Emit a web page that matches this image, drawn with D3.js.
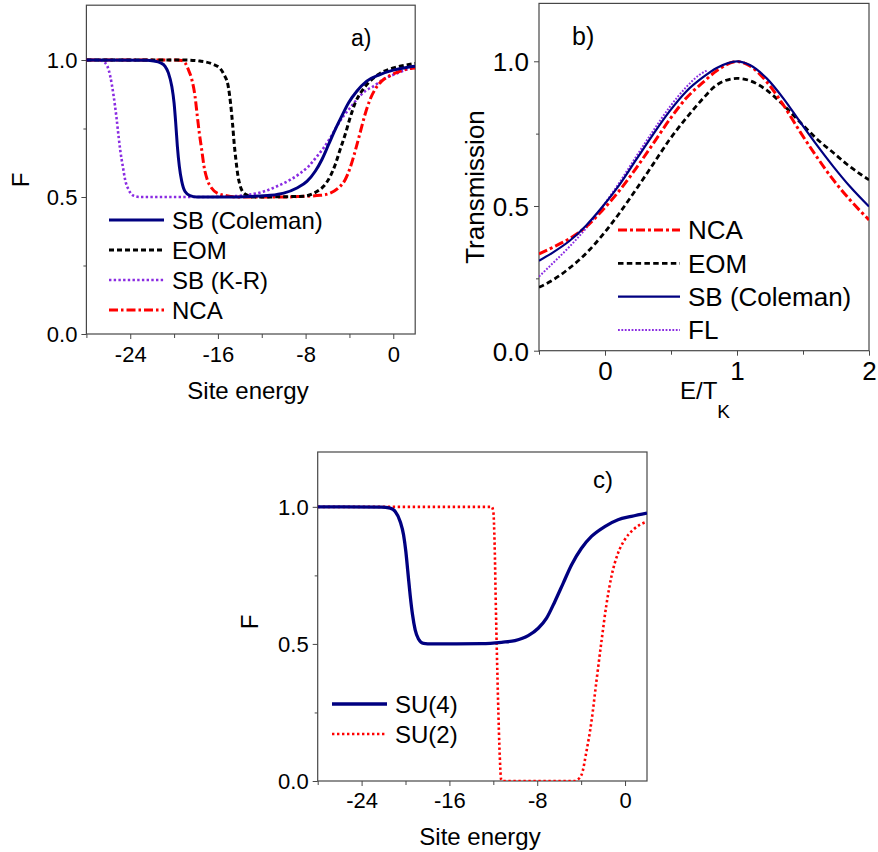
<!DOCTYPE html>
<html>
<head>
<meta charset="utf-8">
<script src="https://cdn.jsdelivr.net/npm/d3@7"></script>
<style>
  body { margin: 0; background: #fff; }
  svg { display: block; font-family: "Liberation Sans", Arial, sans-serif; }
</style>
</head>
<body>
<svg id="fig" width="878" height="852"></svg>
<script>
// ---------- panel a: F versus site energy ----------
const aSBColeman = [[-28,1],[-22.5,0.999],[-21.85,0.996],[-21.27,0.99],[-20.82,0.977],[-20.52,0.953],[-20.21,0.904],[-20.0,0.843],[-19.85,0.77],[-19.70,0.685],[-19.52,0.612],[-19.30,0.557],[-19.0,0.52],[-18.55,0.505],[-17.94,0.5],[-15,0.5],[-13.03,0.502],[-11.21,0.506],[-10.0,0.514],[-8.79,0.533],[-7.88,0.557],[-7.12,0.594],[-6.52,0.636],[-5.91,0.691],[-5.30,0.746],[-4.70,0.795],[-4.09,0.843],[-3.33,0.886],[-2.42,0.923],[-1.21,0.947],[0,0.963],[1.21,0.973],[2,0.977]];
const aEOM = [[-28,1],[-19,1],[-17.64,0.996],[-16.42,0.984],[-15.82,0.97],[-15.45,0.947],[-15.06,0.904],[-14.85,0.843],[-14.67,0.77],[-14.52,0.697],[-14.36,0.636],[-14.21,0.587],[-14.0,0.545],[-13.70,0.517],[-13.24,0.505],[-12.79,0.5],[-10,0.501],[-8.18,0.503],[-6.97,0.52],[-6.36,0.539],[-5.76,0.575],[-5.30,0.618],[-4.85,0.673],[-4.39,0.728],[-3.94,0.789],[-3.48,0.843],[-2.88,0.886],[-2.12,0.923],[-1.21,0.951],[0,0.971],[1.21,0.982],[2,0.987]];
const aSBKR = [[-28,1],[-27,1],[-26.58,0.997],[-26.12,0.98],[-25.82,0.94],[-25.52,0.87],[-25.27,0.795],[-25.06,0.72],[-24.91,0.67],[-24.67,0.61],[-24.45,0.56],[-24.15,0.527],[-23.70,0.505],[-23.09,0.5],[-17,0.5],[-15,0.502],[-13.6,0.506],[-12.8,0.511],[-11.82,0.52],[-10.61,0.539],[-9.39,0.563],[-8.48,0.587],[-7.73,0.612],[-6.97,0.648],[-6.36,0.679],[-5.76,0.715],[-5.15,0.758],[-4.55,0.795],[-3.94,0.825],[-3.33,0.856],[-2.58,0.886],[-1.82,0.904],[-0.91,0.929],[0.30,0.951],[1.52,0.968],[2,0.971]];
const aNCA = [[-28,1],[-19.8,1],[-19.3,0.998],[-19.0,0.99],[-18.70,0.965],[-18.39,0.93],[-18.09,0.868],[-17.88,0.795],[-17.70,0.734],[-17.48,0.673],[-17.27,0.612],[-16.97,0.563],[-16.58,0.533],[-15.97,0.512],[-15.21,0.505],[-14.30,0.5],[-10,0.5],[-8.48,0.502],[-6.67,0.506],[-5.76,0.514],[-5.0,0.533],[-4.39,0.563],[-3.94,0.606],[-3.48,0.667],[-3.03,0.734],[-2.58,0.801],[-2.12,0.856],[-1.67,0.892],[-1.06,0.923],[-0.30,0.943],[0.61,0.959],[1.52,0.969],[2,0.971]];

// ---------- panel b: transmission versus E/T_K ----------
const bNCA = [[-0.5,0.334],[-0.396,0.357],[-0.27,0.387],[-0.144,0.428],[-0.018,0.486],[0.109,0.553],[0.235,0.630],[0.361,0.713],[0.487,0.797],[0.614,0.872],[0.74,0.926],[0.846,0.967],[1.0,0.999],[1.098,0.984],[1.225,0.929],[1.351,0.849],[1.477,0.757],[1.604,0.670],[1.73,0.59],[1.856,0.521],[2.0,0.452]];
const bEOM = [[-0.5,0.219],[-0.396,0.244],[-0.27,0.285],[-0.144,0.336],[-0.018,0.40],[0.109,0.475],[0.235,0.557],[0.361,0.642],[0.487,0.728],[0.614,0.803],[0.74,0.87],[0.846,0.918],[1.0,0.941],[1.098,0.933],[1.225,0.9],[1.351,0.849],[1.477,0.79],[1.629,0.722],[1.73,0.684],[1.83,0.645],[1.944,0.607],[2.0,0.59]];
const bSBColeman = [[-0.5,0.311],[-0.396,0.339],[-0.27,0.379],[-0.144,0.432],[-0.018,0.498],[0.109,0.573],[0.235,0.659],[0.361,0.745],[0.487,0.826],[0.614,0.895],[0.74,0.944],[0.846,0.977],[1.0,1.0],[1.098,0.987],[1.225,0.941],[1.351,0.872],[1.477,0.791],[1.604,0.711],[1.73,0.636],[1.856,0.567],[2.0,0.498]];
const bFL = [[-0.5,0.256],[-0.396,0.302],[-0.27,0.359],[-0.144,0.423],[-0.018,0.498],[0.109,0.581],[0.235,0.670],[0.361,0.757],[0.487,0.84],[0.614,0.91],[0.715,0.953],[0.78,0.97]];

// ---------- panel c: SU(4) and SU(2) ----------
const cSU4 = [[-28,1],[-22.2,0.999],[-21.4,0.995],[-20.94,0.983],[-20.48,0.946],[-20.18,0.898],[-19.97,0.837],[-19.79,0.764],[-19.58,0.679],[-19.36,0.606],[-19.12,0.551],[-18.82,0.518],[-18.36,0.502],[-17.6,0.5],[-13.06,0.501],[-11.24,0.506],[-10.03,0.512],[-8.82,0.530],[-7.91,0.557],[-7.15,0.594],[-6.39,0.655],[-5.64,0.721],[-4.88,0.788],[-3.97,0.849],[-3.06,0.892],[-1.85,0.928],[-0.64,0.953],[0.58,0.965],[2,0.977]];
const cSU2 = [[-28,1],[-12.15,1],[-12.0,0.983],[-11.88,0.861],[-11.76,0.618],[-11.62,0.375],[-11.45,0.131],[-11.28,0.004],[-11.1,0],[-4.6,0],[-4.42,0.003],[-3.97,0.022],[-3.52,0.107],[-3.06,0.217],[-2.61,0.363],[-2.15,0.509],[-1.70,0.642],[-1.24,0.746],[-0.64,0.831],[-0.03,0.88],[0.73,0.916],[1.33,0.934],[2,0.946]];

// ---------- tick values ----------
const siteMajor = [-24, -16, -8, 0];
const siteMinor = [-28, -20, -12, -4];
const eMajor = [0, 1, 2];
const eMinor = [-0.5, 0.5, 1.5];
const fMajor = [0, 0.5, 1.0];
const fMinor = [0.25, 0.75];

const svg = d3.select("#fig");
const FRAME = "#474747";

function drawPanel(p) {
  const g = svg.append("g");
  const x = d3.scaleLinear().domain(p.xDomain).range([p.l, p.r]);
  const y = d3.scaleLinear().domain([0, 1.2]).range([p.b, p.t]);

  const clipId = "clip-" + p.id;
  svg.append("defs").append("clipPath").attr("id", clipId)
    .append("rect").attr("x", p.l).attr("y", p.t)
    .attr("width", p.r - p.l).attr("height", p.b - p.t);

  // minor ticks
  const xMinorAxis = g.append("g").attr("transform", `translate(0,${p.b})`)
    .call(d3.axisBottom(x).tickValues(p.xMinor).tickSize(4).tickFormat(""));
  const yMinorAxis = g.append("g").attr("transform", `translate(${p.l},0)`)
    .call(d3.axisLeft(y).tickValues(fMinor).tickSize(3).tickFormat(""));
  [xMinorAxis, yMinorAxis].forEach(a => {
    a.select(".domain").remove();
    a.selectAll("line").attr("stroke", FRAME);
  });

  // major ticks with labels
  const xAxis = g.append("g").attr("transform", `translate(0,${p.b})`)
    .call(d3.axisBottom(x).tickValues(p.xMajor).tickSize(5).tickFormat(d => String(d)));
  const yAxis = g.append("g").attr("transform", `translate(${p.l},0)`)
    .call(d3.axisLeft(y).tickValues(fMajor).tickSize(5).tickFormat(d3.format(".1f")));
  [xAxis, yAxis].forEach(a => {
    a.select(".domain").remove();
    a.selectAll("line").attr("stroke", FRAME);
    a.selectAll("text").attr("fill", "#000")
      .style("font-family", '"Liberation Sans", Arial, sans-serif')
      .style("font-size", p.tickFs + "px");
  });
  xAxis.selectAll("text").attr("y", p.xLabelDy).attr("dy", 0);
  yAxis.selectAll("text").attr("x", -p.yLabelDx).attr("dy", "0.36em");

  // frame
  g.append("rect").attr("x", p.l).attr("y", p.t)
    .attr("width", p.r - p.l).attr("height", p.b - p.t)
    .attr("fill", "none").attr("stroke", FRAME).attr("stroke-width", 1.2);

  // curves
  const line = d3.line().x(d => x(d[0])).y(d => y(d[1])).curve(d3.curveMonotoneX);
  const curves = g.append("g").attr("clip-path", `url(#${clipId})`);
  p.series.forEach(s => {
    curves.append("path").datum(s.data)
      .attr("d", line)
      .attr("fill", "none")
      .attr("stroke", s.color)
      .attr("stroke-width", s.width)
      .attr("stroke-dasharray", s.dash || null);
  });

  // legend
  const lg = g.append("g");
  p.legend.forEach((s, i) => {
    const yy = p.leg.y0 + i * p.leg.dy;
    lg.append("line").attr("x1", p.leg.x1).attr("x2", p.leg.x2)
      .attr("y1", yy).attr("y2", yy)
      .attr("stroke", s.color).attr("stroke-width", s.width)
      .attr("stroke-dasharray", s.dash || null);
    lg.append("text").attr("x", p.leg.tx).attr("y", yy + p.leg.fs * 0.36)
      .style("font-size", p.leg.fs + "px").text(s.name);
  });

  // panel tag
  g.append("text").attr("x", p.tag.x).attr("y", p.tag.y)
    .style("font-size", p.tag.fs + "px").text(p.tag.text);

  return g;
}

const styleSB = { color: "#000080", width: 3 };
const styleEOM = { color: "#000000", width: 3, dash: "5,3" };
const styleKR = { color: "#8a2be2", width: 2.6, dash: "2.4,2.3" };
const styleNCA = { color: "#ff0000", width: 3, dash: "9,3,2.5,3" };

// panel a
const ga = drawPanel({
  id: "a", l: 86.4, r: 415.2, t: 5.2, b: 334,
  xDomain: [-28, 2], xMajor: siteMajor, xMinor: siteMinor,
  tickFs: 22, xLabelDy: 28, yLabelDx: 9,
  series: [
    Object.assign({ data: aSBKR }, styleKR),
    Object.assign({ data: aNCA }, styleNCA),
    Object.assign({ data: aEOM }, styleEOM),
    Object.assign({ data: aSBColeman }, styleSB)
  ],
  legend: [
    Object.assign({ name: "SB (Coleman)" }, styleSB),
    Object.assign({ name: "EOM" }, styleEOM),
    Object.assign({ name: "SB (K-R)" }, styleKR),
    Object.assign({ name: "NCA" }, styleNCA)
  ],
  leg: { x1: 109, x2: 164, tx: 172, y0: 220, dy: 30, fs: 24 },
  tag: { x: 351, y: 46, fs: 23, text: "a)" }
});
ga.append("text").attr("x", 248).attr("y", 399).attr("text-anchor", "middle")
  .style("font-size", "24px").text("Site energy");
ga.append("text").attr("transform", "translate(29,180) rotate(-90)")
  .attr("text-anchor", "middle").style("font-size", "24px").text("F");

// panel b
const bSB = { color: "#000080", width: 2.2 };
const bEOMs = { color: "#000000", width: 2.8, dash: "5.5,3.3" };
const bNCAs = { color: "#ff0000", width: 3, dash: "9,3,3,3" };
const bFLs = { color: "#8a2be2", width: 2, dash: "1.8,1.6" };
const gb = drawPanel({
  id: "b", l: 539, r: 869, t: 3.4, b: 350.7,
  xDomain: [-0.5, 2], xMajor: eMajor, xMinor: eMinor,
  tickFs: 26, xLabelDy: 29, yLabelDx: 10,
  series: [
    Object.assign({ data: bEOM }, bEOMs),
    Object.assign({ data: bFL }, bFLs),
    Object.assign({ data: bNCA }, bNCAs),
    Object.assign({ data: bSBColeman }, bSB)
  ],
  legend: [
    Object.assign({ name: "NCA" }, bNCAs),
    Object.assign({ name: "EOM" }, bEOMs),
    Object.assign({ name: "SB (Coleman)" }, bSB),
    Object.assign({ name: "FL" }, bFLs)
  ],
  leg: { x1: 618, x2: 680, tx: 688, y0: 230, dy: 33.3, fs: 26 },
  tag: { x: 572, y: 45, fs: 25, text: "b)" }
});
const xl = gb.append("text").attr("x", 705).attr("y", 399).attr("text-anchor", "middle")
  .style("font-size", "24px");
xl.append("tspan").text("E/T");
xl.append("tspan").attr("dy", 19).style("font-size", "19px").text("K");
gb.append("text").attr("transform", "translate(484,187) rotate(-90)")
  .attr("text-anchor", "middle").style("font-size", "26px").text("Transmission");

// panel c
const cSU4s = { color: "#000080", width: 3.3 };
const cSU2s = { color: "#ff0000", width: 2.6, dash: "2.4,2.6" };
const gc = drawPanel({
  id: "c", l: 317.7, r: 647, t: 452, b: 781,
  xDomain: [-28, 2], xMajor: siteMajor, xMinor: siteMinor,
  tickFs: 22, xLabelDy: 27, yLabelDx: 9,
  series: [
    Object.assign({ data: cSU2 }, cSU2s),
    Object.assign({ data: cSU4 }, cSU4s)
  ],
  legend: [
    Object.assign({ name: "SU(4)" }, cSU4s),
    Object.assign({ name: "SU(2)" }, cSU2s)
  ],
  leg: { x1: 332, x2: 387, tx: 395, y0: 704, dy: 30, fs: 24 },
  tag: { x: 593, y: 488, fs: 24, text: "c)" }
});
gc.append("text").attr("x", 480).attr("y", 845).attr("text-anchor", "middle")
  .style("font-size", "24px").text("Site energy");
gc.append("text").attr("transform", "translate(258,622) rotate(-90)")
  .attr("text-anchor", "middle").style("font-size", "24px").text("F");
</script>
</body>
</html>
